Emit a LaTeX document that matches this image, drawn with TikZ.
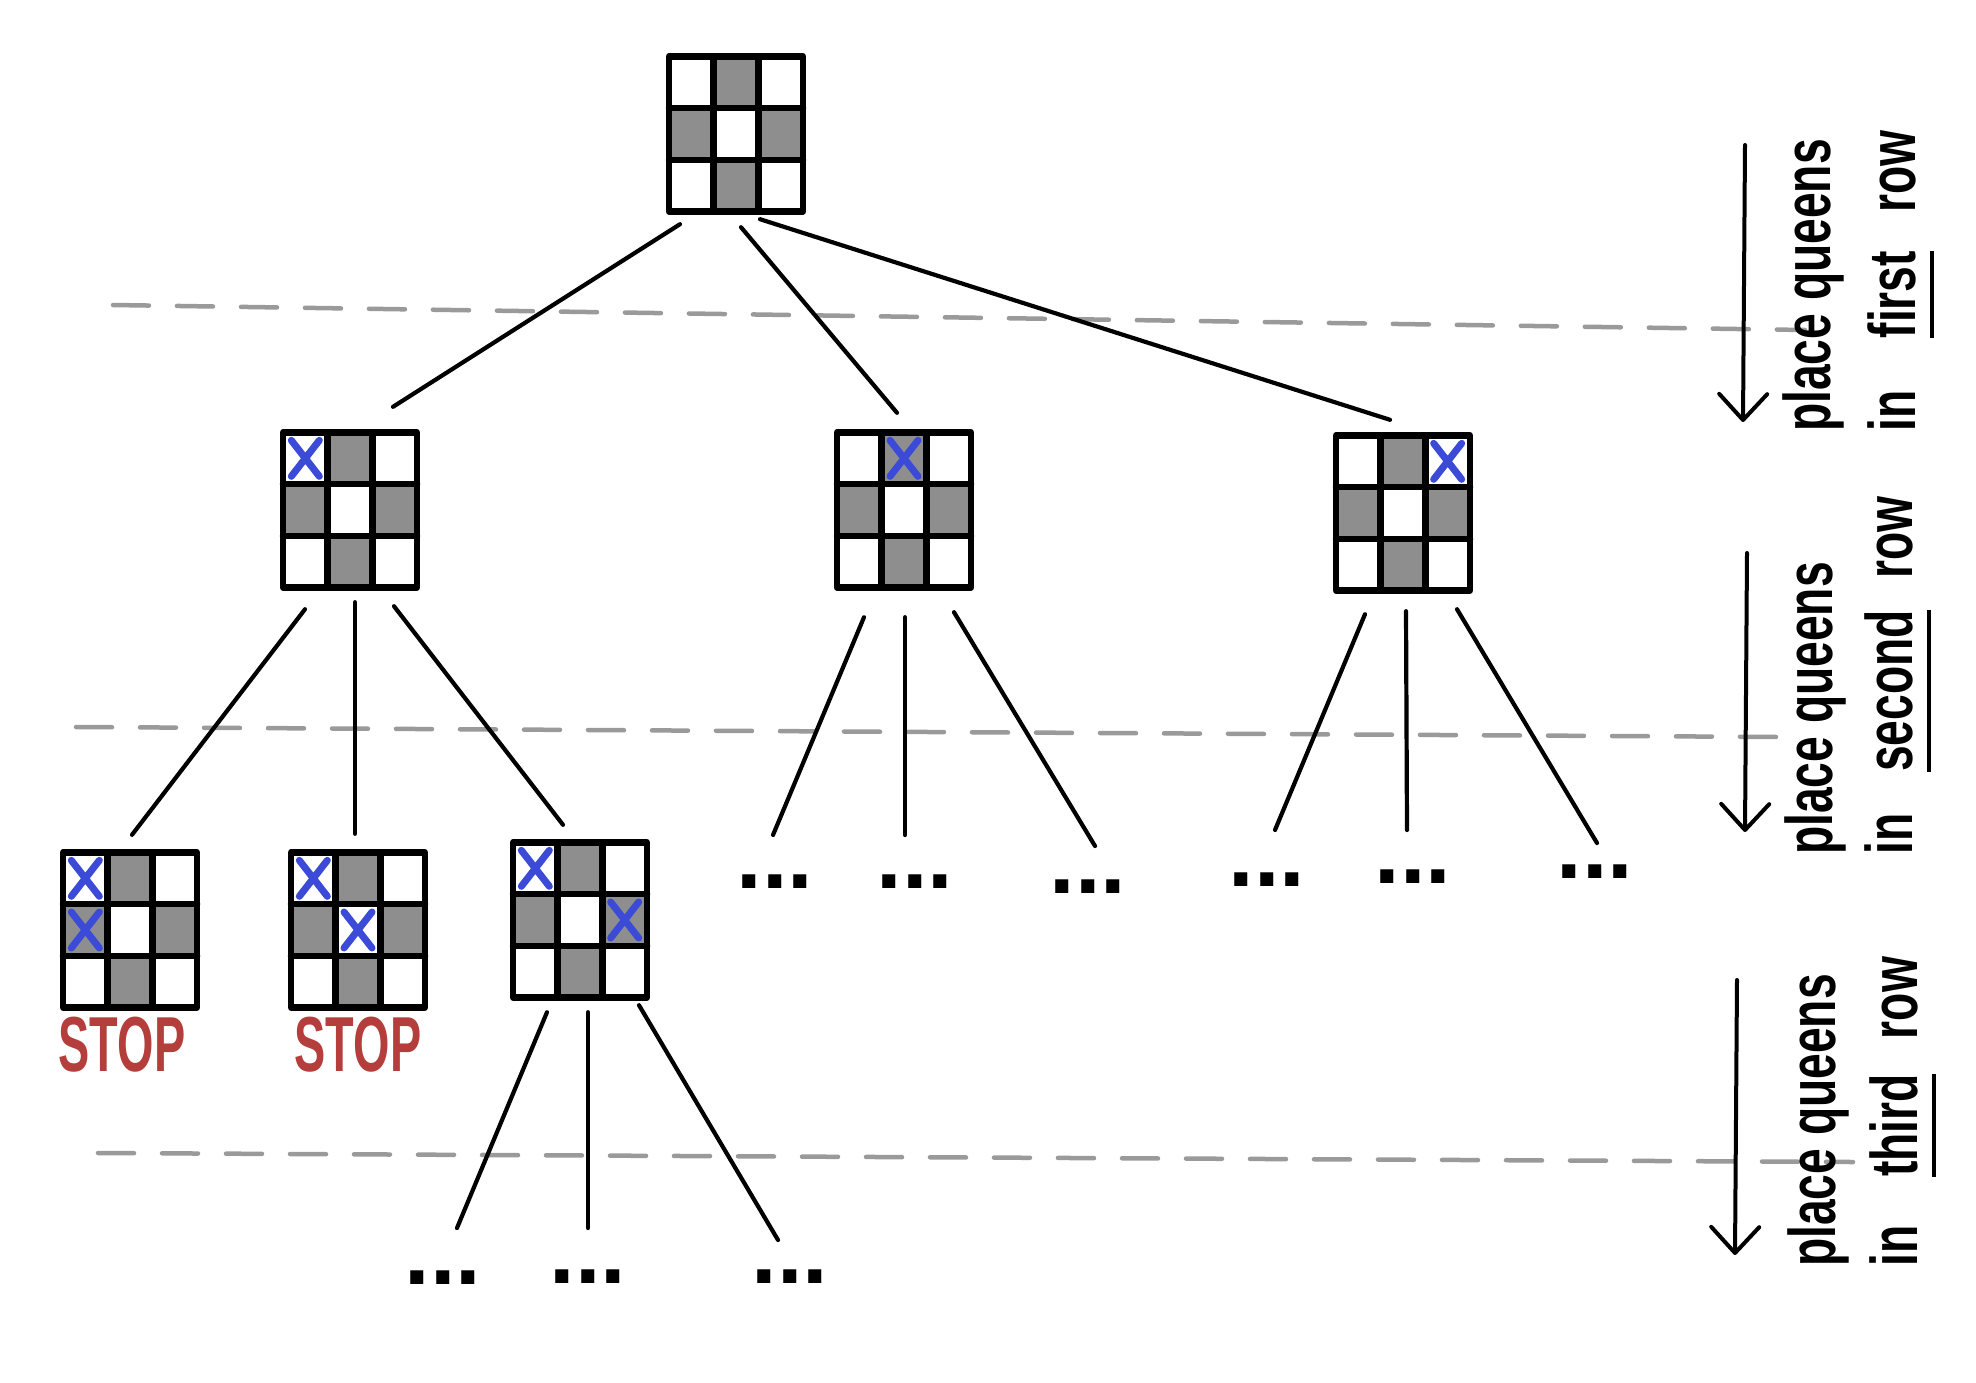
\documentclass[tikz,border=0pt]{standalone}
\usepackage{fontspec}
\setmainfont{Liberation Sans}
\usepackage{graphicx}
\usetikzlibrary{arrows.meta}
\definecolor{sqgrey}{HTML}{8E8E8E}
\definecolor{qblue}{HTML}{3B4BD8}
\definecolor{stopred}{HTML}{B43E3C}
\definecolor{sepgrey}{HTML}{9A9A9A}
\newcommand\hul[1]{\setbox0\hbox{#1}\leavevmode\rlap{\rule[-19pt]{\wd0}{4.5pt}}\box0}
\tikzset{
  brd/.style={inner sep=0pt, minimum width=134pt, minimum height=155pt, draw=none},
  gridln/.style={line width=6.5pt, line cap=round, line join=round},
  sq/.style={fill=sqgrey},
  qxs/.style={draw=qblue, line width=7pt, line cap=round},
  edge/.style={line width=4.2pt, line cap=round},
  sep/.style={draw=sepgrey, line width=4.5pt, line cap=round, dash pattern=on 36pt off 28pt},
  arr/.style={line width=4pt, line cap=round, -{Straight Barb[length=26pt,width=48pt,round]}},
  lbl/.style={font=\bfseries\fontsize{66}{80}\selectfont, inner sep=0pt, anchor=base west, rotate=90},
  stoplbl/.style={font=\bfseries\fontsize{78}{80}\selectfont, text=stopred, inner sep=0pt},
  dots/.style={font=\bfseries\fontsize{92}{92}\selectfont, inner sep=0pt}
}
\newcommand\qboard[2]{%
  \node[brd] (#1) at (#2) {};
  \begin{scope}[shift={(#1.center)}]
    \fill[sq] (-22.33,-77.5) rectangle (22.33,-25.83);
    \fill[sq] (-67,-25.83) rectangle (-22.33,25.83);
    \fill[sq] (22.33,-25.83) rectangle (67,25.83);
    \fill[sq] (-22.33,25.83) rectangle (22.33,77.5);
    \draw[gridln] (-67,-77.5) rectangle (67,77.5);
    \draw[gridln] (-22.33,-77.5) -- (-22.33,77.5) (22.33,-77.5) -- (22.33,77.5)
                  (-67,-25.83) -- (67,-25.83) (-67,25.83) -- (67,25.83);
  \end{scope}}
\newcommand\qx[3]{%
  \begin{scope}[shift={(#1.center)}]
    \draw[qxs] ({#2*44.67-44.67-14},{#3*51.67-51.67-18}) -- ++(28,36)
               ({#2*44.67-44.67+14},{#3*51.67-51.67-18}) -- ++(-28,36);
  \end{scope}}
\begin{document}
\begin{tikzpicture}[x=1pt,y=-1pt]
\fill[white] (0,0) rectangle (1976,1382);
\useasboundingbox (0,0) rectangle (1976,1382);

% level separators
\draw[sep] (113,305) -- (1805,330);
\draw[sep] (76,727) -- (1783,737);
\draw[sep] (98,1153) -- (1853,1162);

% boards
\qboard{b0}{736,134}
\qboard{b1}{350,510}
\qboard{b2}{904,510}
\qboard{b3}{1403,513}
\qboard{c1}{130,930}
\qboard{c2}{358,930}
\qboard{c3}{580,920}

% queens
\qx{b1}{0}{0}
\qx{b2}{1}{0}
\qx{b3}{2}{0}
\qx{c1}{0}{0}\qx{c1}{0}{1}
\qx{c2}{0}{0}\qx{c2}{1}{1}
\qx{c3}{0}{0}\qx{c3}{2}{1}

% STOP labels
\node[stoplbl] (s1) at (122,1045) {\scalebox{0.6}[1]{STOP}};
\node[stoplbl] (s2) at (358,1045) {\scalebox{0.6}[1]{STOP}};

% ellipses
\node[dots] (d1) at (775,882) {...};
\node[dots] (d2) at (915,882) {...};
\node[dots] (d3) at (1088,887) {...};
\node[dots] (d4) at (1267,880) {...};
\node[dots] (d5) at (1413,877) {...};
\node[dots] (d6) at (1595,872) {...};
\node[dots] (d7) at (443,1278) {...};
\node[dots] (d8) at (588,1277) {...};
\node[dots] (d9) at (790,1277) {...};

% edges
\draw[edge] ([shift={(-56,12.5)}]b0.south) -- ([shift={(43,-25.5)}]b1.north);
\draw[edge] ([shift={(5,15.5)}]b0.south) -- ([shift={(-7,-19.5)}]b2.north);
\draw[edge] ([shift={(24,7.5)}]b0.south) -- ([shift={(-13,-15.5)}]b3.north);

\draw[edge] ([shift={(-45,21.5)}]b1.south) -- ([shift={(2,-17.5)}]c1.north);
\draw[edge] ([shift={(5,14.5)}]b1.south) -- ([shift={(-3,-18.5)}]c2.north);
\draw[edge] ([shift={(44,18.5)}]b1.south) -- ([shift={(-17,-17.5)}]c3.north);

\draw[edge] ([shift={(-40,29.5)}]b2.south) -- ([shift={(-2,-47)}]d1.center);
\draw[edge] ([shift={(1,29.5)}]b2.south) -- ([shift={(-10,-47)}]d2.center);
\draw[edge] ([shift={(50,24.5)}]b2.south) -- ([shift={(7,-41)}]d3.center);

\draw[edge] ([shift={(-38,23.5)}]b3.south) -- ([shift={(8,-50)}]d4.center);
\draw[edge] ([shift={(3,20.5)}]b3.south) -- ([shift={(-6,-47)}]d5.center);
\draw[edge] ([shift={(54,18.5)}]b3.south) -- ([shift={(2,-29)}]d6.center);

\draw[edge] ([shift={(-33,14.5)}]c3.south) -- ([shift={(14,-50)}]d7.center);
\draw[edge] ([shift={(8,14.5)}]c3.south) -- ([shift={(0,-49)}]d8.center);
\draw[edge] ([shift={(59,7.5)}]c3.south) -- ([shift={(-12,-37)}]d9.center);

% level arrows
\coordinate (a1s) at (1745,145); \coordinate (a1e) at (1743,422);
\coordinate (a2s) at (1747,553); \coordinate (a2e) at (1745,832);
\coordinate (a3s) at (1737,980); \coordinate (a3e) at (1735,1255);
\draw[arr] (a1s) -- (a1e);
\draw[arr] (a2s) -- (a2e);
\draw[arr] (a3s) -- (a3e);

% level labels
\node[lbl] (t1a) at (1830,432) {\scalebox{0.7}[1]{place queens}};
\node[lbl] (t1b) at (1915,432) {\scalebox{0.7}[1]{in\hspace*{75pt}\hul{first}\hspace*{55pt}row}};
\node[lbl] (t2a) at (1832,855) {\scalebox{0.7}[1]{place queens}};
\node[lbl] (t2b) at (1912,855) {\scalebox{0.7}[1]{in\hspace*{60pt}\hul{second}\hspace*{45pt}row}};
\node[lbl] (t3a) at (1835,1267) {\scalebox{0.7}[1]{place queens}};
\node[lbl] (t3b) at (1917,1267) {\scalebox{0.7}[1]{in\hspace*{70pt}\hul{third}\hspace*{50pt}row}};
\end{tikzpicture}
\end{document}
